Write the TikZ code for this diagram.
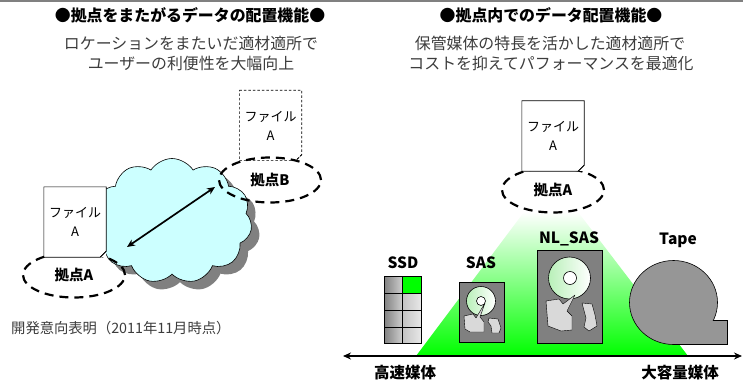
\documentclass[tikz,border=0pt]{standalone}
\usepackage{fontspec}
\setmainfont{Noto Sans CJK JP}
\usetikzlibrary{shapes.geometric,shapes.symbols,arrows.meta,calc}

\definecolor{cloudfill}{RGB}{204,255,255}
\definecolor{shadowgray}{RGB}{128,128,128}
\definecolor{diskgray}{RGB}{128,128,128}
\definecolor{tapegray}{RGB}{150,150,150}
\definecolor{armgray}{RGB}{217,217,217}
\definecolor{plattergreen}{RGB}{185,240,185}
\definecolor{subtext}{RGB}{60,60,60}
\definecolor{brightgreen}{RGB}{0,255,0}
\definecolor{rulegray}{RGB}{128,128,128}

% outline of a sheet with a small folded corner at the bottom right
\newcommand\filecorner[2][]{%
  \draw[#1] (#2.north west) -- (#2.north east) -- ([yshift=6pt]#2.south east)
     -- ([xshift=-6pt]#2.south east) -- (#2.south west) -- cycle;
  \draw[#1] ([yshift=6pt]#2.south east) -- ([xshift=-4pt,yshift=2pt]#2.south east)
     -- ([xshift=-6pt]#2.south east);
}

\tikzset{
  head/.style={inner sep=0pt, font=\fontsize{15.9}{18}\selectfont\bfseries},
  sub/.style={inner sep=0pt, text=subtext, font=\fontsize{15.9}{18}\selectfont},
  note/.style={inner sep=0pt, text=subtext, font=\fontsize{14.3}{17}\selectfont},
  sheet/.style={inner sep=0pt, minimum width=62pt, minimum height=70pt, align=center,
    font=\fontsize{13}{19}\selectfont},
  site/.style={ellipse, draw, line width=2.2pt, dash pattern=on 9pt off 6pt,
    minimum width=102pt, minimum height=45pt, inner sep=0pt,
    font=\fontsize{14.5}{17}\selectfont\bfseries},
  puffy/.style={cloud, cloud puffs=11, cloud puff arc=115, aspect=1.3,
    minimum width=160pt, minimum height=125pt, inner sep=0pt},
  dbl/.style={line width=1.7pt, {Stealth[length=8pt,width=7pt]}-{Stealth[length=8pt,width=7pt]}},
  medlabel/.style={inner sep=0pt, font=\fontsize{15.5}{18}\selectfont\bfseries},
  diskbox/.style={draw, fill=diskgray, inner sep=0pt},
  arm/.style={draw, fill=armgray, line join=round},
}

\begin{document}
\begin{tikzpicture}[x=1pt, y=-1pt]
\useasboundingbox (0,0) rectangle (743,382);
\fill[rulegray] (0,0) rectangle (743,2);

% ---------- headings ----------
\node[head] (hL) at (190,15) {●拠点をまたがるデータの配置機能●};
\node[sub] (sL1) at (191,43) {ロケーションをまたいだ適材適所で};
\node[sub] (sL2) at (191,63) {ユーザーの利便性を大幅向上};
\node[head] (hR) at (551,15) {●拠点内でのデータ配置機能●};
\node[sub] (sR1) at (550,43) {保管媒体の特長を活かした適材適所で};
\node[sub] (sR2) at (551,63) {コストを抑えてパフォーマンスを最適化};

% ---------- left: sites linked over the network ----------
\node[puffy, fill=shadowgray] (cloudsh) at (180,229) {};
\node[puffy, fill=cloudfill, draw=black, line width=0.6pt] (cloud) at (172,221) {};

\node[site] (siteA) at (74,275) {拠点A};
\node[site] (siteB) at (270,180) {拠点B};

\node[sheet, fill=white] (fileL) at (75,222) {ファイル\\A};
\filecorner[line width=0.6pt]{fileL}
\node[sheet] (fileB) at (270.5,125.5) {ファイル\\A};
\filecorner[line width=0.6pt, dash pattern=on 2.5pt off 2pt]{fileB}

\coordinate (pA) at (127,247);
\coordinate (pB) at (215,187);
\draw[dbl] (pA) -- (pB);

\node[note, anchor=west] (note) at (11,328) {開発意向表明（2011年11月時点）};

% ---------- right: tiers inside one site ----------
\shade[top color=white, middle color=brightgreen!15, bottom color=brightgreen]
  (524,212) -- (578,212) -- (688,356) -- (416,356) -- cycle;

\node[site] (siteR) at (553,190) {拠点A};
\node[sheet, fill=white] (fileR) at (553,136) {ファイル\\A};
\filecorner[line width=0.6pt]{fileR}

% SSD
\foreach \ya/\yb in {276/293, 293/310, 310/327, 327/343} {
  \shade[left color=gray!100!white!50!black!0, left color={rgb,255:red,128;green,128;blue,128},
         right color={rgb,255:red,205;green,205;blue,205}] (384,\ya) rectangle (402,\yb);
  \shade[left color={rgb,255:red,195;green,195;blue,195},
         right color={rgb,255:red,232;green,232;blue,232}] (402,\ya) rectangle (421,\yb);
}
\fill[brightgreen] (402,276) rectangle (421,293);
\draw[line width=0.7pt] (384,276) rectangle (421,343);
\draw[line width=0.7pt] (402,276) -- (402,343);
\foreach \yy in {293,310,327} \draw[line width=0.7pt] (384,\yy) -- (421,\yy);
\node[medlabel] (ssdL) at (403,263) {SSD};

% SAS
\node[diskbox, minimum width=45pt, minimum height=60pt] (sasbox) at (481.5,312) {};
\shadedraw[left color=plattergreen, right color=white, line width=0.6pt] (481,301) circle (14.5pt);
\draw[fill=white, line width=0.6pt] (481,301) circle (4.5pt);
\draw[arm] (464,316) -- (473,314) -- (476,318) -- (485,303) -- (480,317) -- (484,322)
  -- (484,332) -- (470,332) -- (465,329) -- cycle;
\draw[arm] (489,318) -- (498,319) -- (501,328) -- (499,333) -- (492,333) -- (491,326)
  -- (488,322) -- cycle;
\node[medlabel] (sasL) at (481,263) {SAS};

% NL_SAS
\node[diskbox, minimum width=65pt, minimum height=93pt] (nlbox) at (569.5,296.5) {};
\shadedraw[left color=plattergreen, right color=white, line width=0.6pt] (569.5,278) circle (21pt);
\draw[fill=white, line width=0.6pt] (570,278) circle (6.5pt);
\draw[arm] (546,301) -- (559,299) -- (563,304) -- (575,295) -- (567,311) -- (572,316)
  -- (572,330) -- (561,331) -- (548,326) -- cycle;
\draw[arm] (582,303) -- (592,304) -- (595,315) -- (597,326) -- (589,331) -- (584,327)
  -- (586,318) -- cycle;
\node[medlabel] (nlL) at (569,239) {NL\_SAS};

% Tape reel
\draw[fill=tapegray, line width=0.6pt] (673.5,302.5) ellipse [x radius=44pt, y radius=42pt];
\fill[tapegray] (673.5,320.6) rectangle (726.6,344.2);
\draw[line width=0.6pt, line join=miter] (713.3,320) -- (727,320) -- (727,344.5) -- (673.5,344.5);
\node[medlabel] (tapeL) at (678,240) {Tape};

% speed / capacity axis
\coordinate (axL) at (343,356);
\coordinate (axR) at (742,356);
\draw[dbl] (axL) -- (axR);
\node[medlabel] (fast) at (405,373) {高速媒体};
\node[medlabel] (large) at (680,373) {大容量媒体};
\end{tikzpicture}
\end{document}
